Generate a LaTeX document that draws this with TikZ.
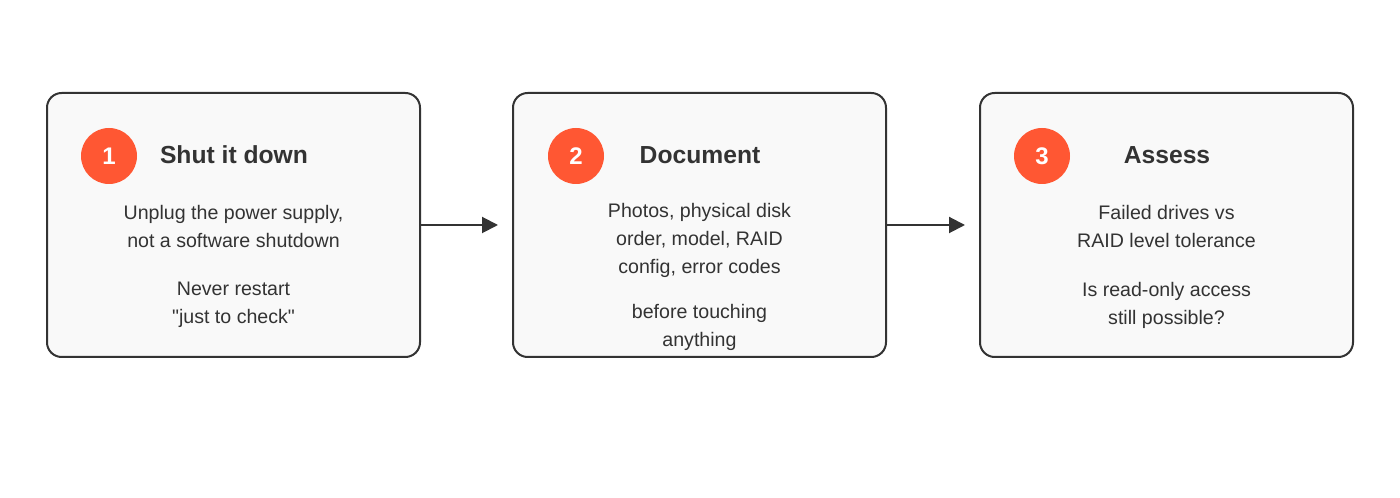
\documentclass[tikz,border=0pt]{standalone}
\usepackage{fontspec}
\setmainfont{Liberation Sans}
\usetikzlibrary{arrows.meta}
\definecolor{ink}{HTML}{333333}
\definecolor{boxfill}{HTML}{F9F9F9}
\definecolor{badge}{HTML}{FF5733}
\tikzset{
  stepbox/.style={draw=ink, line width=1.5pt, fill=boxfill, rounded corners=11pt,
    minimum width=279.75pt, minimum height=198pt, inner sep=0pt},
  badgenode/.style={circle, fill=badge, minimum size=42pt, inner sep=0pt,
    text=white, font=\bfseries\fontsize{18}{20}\selectfont},
  titlenode/.style={text=ink, font=\bfseries\fontsize{18.5}{20}\selectfont, inner sep=0pt},
  bodynode/.style={text=ink, align=center, font=\fontsize{14.7}{21}\selectfont, inner sep=0pt},
  flow/.style={draw=ink, line width=1.5pt, -{Triangle[length=12pt,width=12pt]}}
}
\begin{document}
\begin{tikzpicture}[x=0.75pt,y=-0.75pt]
\useasboundingbox (0,0) rectangle (1400,498);
\node[stepbox] (b1) at (233.5,225) {};
\node[stepbox] (b2) at (699.5,225) {};
\node[stepbox] (b3) at (1166.5,225) {};
\node[badgenode] (c1) at (109,156) {1};
\node[badgenode] (c2) at (576,156) {2};
\node[badgenode] (c3) at (1042,156) {3};
\node[titlenode] (t1) at (234,155) {Shut it down};
\node[titlenode] (t2) at (700,155) {Document};
\node[titlenode] (t3) at (1167,155) {Assess};
\node[bodynode] (p1a) at (233.5,226) {Unplug the power supply,\\not a software shutdown};
\node[bodynode] (p1b) at (233.5,305) {Never restart\\\textquotedbl just to check\textquotedbl};
\node[bodynode] (p2a) at (699.5,240) {Photos, physical disk\\order, model, RAID\\config, error codes};
\node[bodynode] (p2b) at (699.5,327) {before touching\\anything};
\node[bodynode] (p3a) at (1166.5,226) {Failed drives vs\\RAID level tolerance};
\node[bodynode] (p3b) at (1166.5,305) {Is read-only access\\still possible?};
\draw[flow] (b1.east) -- ([xshift=-10.5pt]b2.west);
\draw[flow] (b2.east) -- ([xshift=-10.5pt]b3.west);
\end{tikzpicture}
\end{document}
